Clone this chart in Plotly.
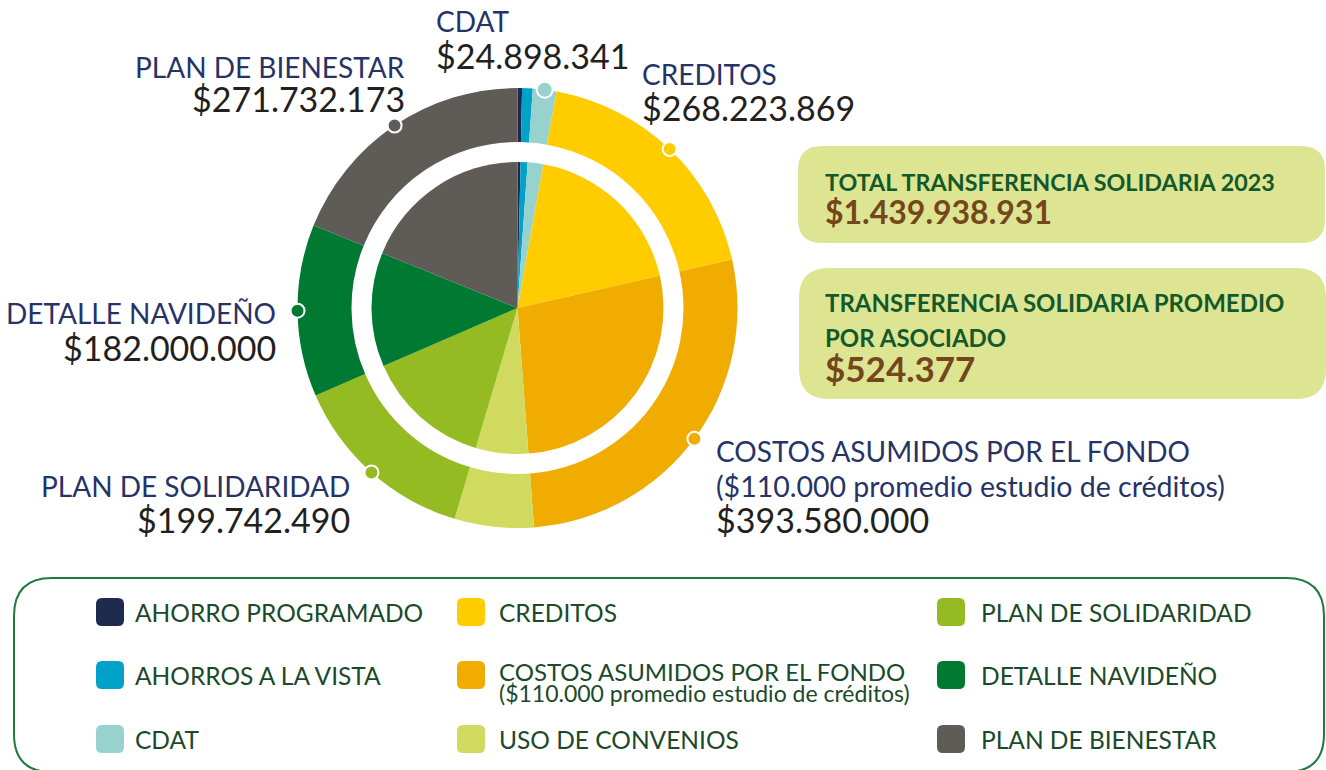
import plotly.graph_objects as go
import numpy as np

# ---------------- data ----------------
categories = ["AHORRO PROGRAMADO", "AHORROS A LA VISTA", "CDAT", "CREDITOS",
              "COSTOS ASUMIDOS POR EL FONDO", "USO DE CONVENIOS",
              "PLAN DE SOLIDARIDAD", "DETALLE NAVIDEÑO", "PLAN DE BIENESTAR"]
values = [4800000, 11200000, 24898341, 268223869, 393580000, 83762058,
          199742490, 182000000, 271732173]
colors = ["#1f2a4f", "#00a3c7", "#98d2cf", "#ffcc00", "#f0ac00", "#cfda5e",
          "#95bb22", "#007a33", "#5f5c57"]
total_label = "TOTAL TRANSFERENCIA SOLIDARIA 2023"
total_value = 1439938931
avg_label = ["TRANSFERENCIA SOLIDARIA PROMEDIO", "POR ASOCIADO"]
avg_value = 524377
costos_note = "($110.000 promedio estudio de créditos)"


def money(v):
    return "$" + f"{v:,}".replace(",", ".")


# ---------------- layout constants (pixels) ----------------
W, H = 1326, 770
CX, CY = 517.5, 308.0
R_OUT, R_HOLE, R_PIE = 220.0, 166.0, 146.0


def dom(r):
    return dict(x=[(CX - r) / W, (CX + r) / W],
                y=[(H - CY - r) / H, (H - CY + r) / H])


fig = go.Figure()
fig.add_trace(go.Pie(labels=categories, values=values, sort=False,
                     direction="clockwise", rotation=0, hole=R_HOLE / R_OUT,
                     marker=dict(colors=colors, line=dict(width=0)),
                     textinfo="none", hoverinfo="skip", showlegend=False,
                     domain=dom(R_OUT)))
fig.add_trace(go.Pie(labels=categories, values=values, sort=False,
                     direction="clockwise", rotation=0,
                     marker=dict(colors=colors, line=dict(width=0)),
                     textinfo="none", hoverinfo="skip", showlegend=False,
                     domain=dom(R_PIE)))
# invisible trace to create the pixel-space axes
fig.add_trace(go.Scatter(x=[0, W], y=[0, H], mode="markers",
                         marker=dict(opacity=0), hoverinfo="skip",
                         showlegend=False))

shapes = []
annotations = []

# ---------------- dots on the ring at slice mid-angles ----------------
vals = np.array(values, dtype=float)
cum = np.cumsum(vals) / vals.sum() * 360.0
mid = cum - vals / vals.sum() * 180.0
callouts = {
    # index: (side, x anchor, name lines, name y, value y)
    2: ("left", 434, ["CDAT"], [21], 55),
    3: ("left", 640, ["CREDITOS"], [74], 107),
    4: ("left", 714, ["COSTOS ASUMIDOS POR EL FONDO", costos_note], [451, 486], 519),
    6: ("right", 352, ["PLAN DE SOLIDARIDAD"], [486], 519),
    7: ("right", 278, ["DETALLE NAVIDEÑO"], [313], 347),
    8: ("right", 407, ["PLAN DE BIENESTAR"], [67], 98),
}
NAVY = "#263367"
for i, (side, xa, names, ny, vy) in callouts.items():
    a = np.deg2rad(mid[i])
    px = CX + R_OUT * np.sin(a)
    py = CY - R_OUT * np.cos(a)
    r = 8 if i == 2 else 7
    shapes.append(dict(type="circle", xref="x", yref="y", layer="above",
                       x0=px - r, x1=px + r, y0=py - r, y1=py + r,
                       fillcolor=colors[i], line=dict(color="white", width=2)))
    for k, (t, yy) in enumerate(zip(names, ny)):
        annotations.append(dict(x=xa, y=yy, xref="x", yref="y", text=t,
                                showarrow=False, xanchor=side, yanchor="middle",
                                font=dict(family="Lato", size=28 if k == 0 else 28.5,
                                          color=NAVY)))
    annotations.append(dict(x=xa, y=vy, xref="x", yref="y", text=money(values[i]),
                            showarrow=False, xanchor=side, yanchor="middle",
                            font=dict(family="Lato", size=34, color="#231f20")))


# ---------------- rounded rectangles ----------------
def rrect(x0, y0, x1, y1, r):
    return (f"M {x0+r},{y0} L {x1-r},{y0} Q {x1},{y0} {x1},{y0+r} "
            f"L {x1},{y1-r} Q {x1},{y1} {x1-r},{y1} L {x0+r},{y1} "
            f"Q {x0},{y1} {x0},{y1-r} L {x0},{y0+r} Q {x0},{y0} {x0+r},{y0} Z")


BOXFILL = "#dde592"
GREEN_T = "#14592b"
BROWN = "#74461b"
shapes.append(dict(type="path", xref="x", yref="y", layer="below",
                   path=rrect(798, 146, 1325, 243, 24), fillcolor=BOXFILL,
                   line=dict(width=0)))
shapes.append(dict(type="path", xref="x", yref="y", layer="below",
                   path=rrect(799, 268, 1326, 399, 30), fillcolor=BOXFILL,
                   line=dict(width=0)))
annotations.append(dict(x=823, y=182, xref="x", yref="y", text=f"<b>{total_label}</b>",
                        showarrow=False, xanchor="left", yanchor="middle",
                        font=dict(family="Lato", size=23.3, color=GREEN_T)))
annotations.append(dict(x=823, y=211, xref="x", yref="y", text=f"<b>{money(total_value)}</b>",
                        showarrow=False, xanchor="left", yanchor="middle",
                        font=dict(family="Lato", size=32, color=BROWN)))
for t, yy in zip(avg_label, [302, 337]):
    annotations.append(dict(x=823, y=yy, xref="x", yref="y", text=f"<b>{t}</b>",
                            showarrow=False, xanchor="left", yanchor="middle",
                            font=dict(family="Lato", size=24, color=GREEN_T)))
annotations.append(dict(x=823, y=368, xref="x", yref="y", text=f"<b>{money(avg_value)}</b>",
                        showarrow=False, xanchor="left", yanchor="middle",
                        font=dict(family="Lato", size=35, color=BROWN)))

# ---------------- legend ----------------
shapes.append(dict(type="path", xref="x", yref="y", layer="below",
                   path=rrect(14, 578, 1324, 772, 38), fillcolor="rgba(0,0,0,0)",
                   line=dict(color="#1f7a3c", width=2)))
col_x = [96, 457, 937]
text_x = [133, 497, 979]
row_y = [612, 675, 739]
LEG_T = "#1b4a2a"
for i, cat in enumerate(categories):
    c, rw = divmod(i, 3)
    sx, sy = col_x[c], row_y[rw]
    tx = text_x[c]
    shapes.append(dict(type="path", xref="x", yref="y", layer="above",
                       path=rrect(sx, sy - 14, sx + 28, sy + 14, 6),
                       fillcolor=colors[i], line=dict(width=0)))
    if i == 4:
        annotations.append(dict(x=tx, y=sy - 4, xref="x", yref="y", text=cat,
                                showarrow=False, xanchor="left", yanchor="middle",
                                font=dict(family="Lato", size=24, color=LEG_T)))
        annotations.append(dict(x=tx, y=sy + 18, xref="x", yref="y", text=costos_note,
                                showarrow=False, xanchor="left", yanchor="middle",
                                font=dict(family="Lato", size=23, color=LEG_T)))
    else:
        annotations.append(dict(x=tx, y=sy, xref="x", yref="y", text=cat,
                                showarrow=False, xanchor="left", yanchor="middle",
                                font=dict(family="Lato", size=24.5, color=LEG_T)))

fig.update_layout(
    width=W, height=H, margin=dict(l=0, r=0, t=0, b=0),
    paper_bgcolor="white", plot_bgcolor="rgba(0,0,0,0)",
    xaxis=dict(range=[0, W], visible=False, fixedrange=True, domain=[0, 1]),
    yaxis=dict(range=[H, 0], visible=False, fixedrange=True, domain=[0, 1]),
    shapes=shapes, annotations=annotations, showlegend=False,
)
fig.write_html("out.html", config={"displayModeBar": False},
               post_script="document.body.style.margin='0';document.body.style.overflow='hidden';")
